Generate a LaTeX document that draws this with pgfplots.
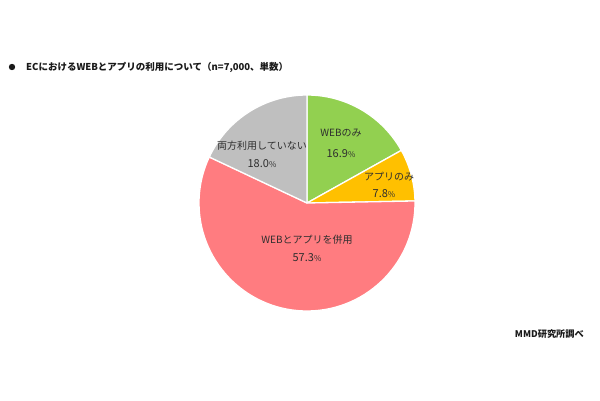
\documentclass[border=0pt]{standalone}
\usepackage{pgfplots}
\usepackage{pgfplotstable}
\pgfplotsset{compat=1.18}
\usepackage{fontspec}
\setmainfont{Noto Sans CJK JP}

\definecolor{webonly}{HTML}{92D050}
\definecolor{apponly}{HTML}{FFC000}
\definecolor{bothuse}{HTML}{FF7C80}
\definecolor{neither}{HTML}{BFBFBF}
\definecolor{labeltext}{HTML}{2E2E2E}

% share (%), slice colour and label centre (canvas units, 1pt each)
\pgfplotstableread[col sep=comma]{
share,col,lx,ly,px,py
16.9,webonly,341,267,341,246
7.8,apponly,389,223,384,206
57.3,bothuse,307,160,307,142
18.0,neither,262,254,262,236
}\sharetable

\newcommand\slicename[1]{\ifcase#1 WEBのみ\or アプリのみ\or WEBとアプリを併用\or 両方利用していない\fi}

% cumulative start/end angles, clockwise from the top
\xdef\cum{0}
\foreach \i in {0,...,3}{%
  \pgfplotstablegetelem{\i}{share}\of\sharetable
  \let\v\pgfplotsretval
  \pgfmathsetmacro\s{90-3.6*\cum}%
  \pgfmathsetmacro\e{90-3.6*(\cum+\v)}%
  \expandafter\xdef\csname sa\i\endcsname{\s}%
  \expandafter\xdef\csname ea\i\endcsname{\e}%
  \expandafter\xdef\csname val\i\endcsname{\v}%
  \pgfplotstablegetelem{\i}{col}\of\sharetable
  \expandafter\xdef\csname col\i\endcsname{\pgfplotsretval}%
  \foreach \k in {lx,ly,px,py}{%
    \pgfplotstablegetelem{\i}{\k}\of\sharetable
    \expandafter\xdef\csname\k\i\endcsname{\pgfplotsretval}}%
  \pgfmathsetmacro\n{\cum+\v}%
  \xdef\cum{\n}%
}

\begin{document}
\begin{tikzpicture}
\begin{axis}[
  x=1pt, y=1pt,
  xmin=0, xmax=600, ymin=0, ymax=400,
  hide axis, scale only axis, clip=false,
]
\path (axis cs:0,0) rectangle (axis cs:600,400);

\pgfplotsinvokeforeach{0,...,3}{
  \fill[fill=\csname col#1\endcsname, draw=white, line width=1.3pt, line join=round]
    (axis cs:307,197) --
    (axis cs:{307+108*cos(\csname sa#1\endcsname)},{197+108*sin(\csname sa#1\endcsname)})
    arc[start angle=\csname sa#1\endcsname, end angle=\csname ea#1\endcsname, radius=108pt]
    -- cycle;
  \node[text=labeltext, font=\fontsize{10}{11}\selectfont, inner sep=0pt]
    at (axis cs:\csname lx#1\endcsname,\csname ly#1\endcsname) {\slicename{#1}};
  \node[text=labeltext, font=\fontsize{11}{12}\selectfont, inner sep=0pt]
    at (axis cs:\csname px#1\endcsname,\csname py#1\endcsname)
    {\pgfmathprintnumber[fixed, fixed zerofill, precision=1, assume math mode=true]{\csname val#1\endcsname}{\fontsize{8}{8}\selectfont\%}};
}

% heading and source note
\fill[black!90] (axis cs:12,333) circle[radius=3.2pt];
\node[anchor=west, inner sep=0pt, font=\fontsize{9.5}{11}\selectfont\bfseries, text=black!90]
  at (axis cs:26,333) {ECにおけるWEBとアプリの利用について（n=7,000、単数）};
\node[anchor=east, inner sep=0pt, font=\fontsize{9.2}{11}\selectfont\bfseries, text=black!90]
  at (axis cs:584,66) {MMD研究所調べ};
\end{axis}
\end{tikzpicture}
\end{document}
